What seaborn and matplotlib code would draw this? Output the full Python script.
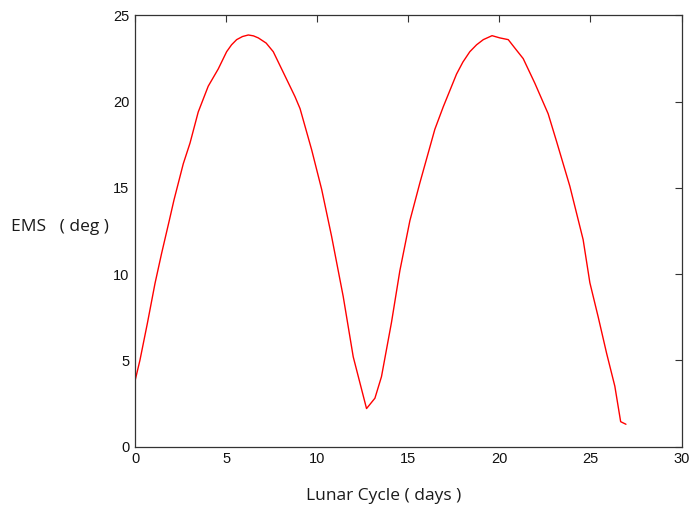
import matplotlib
matplotlib.use("Agg")
import matplotlib.pyplot as plt
import seaborn as sns
import pandas as pd

# Earth-Moon-Sun angle over one lunar cycle
days = [0.0, 0.27, 0.68, 1.10, 1.46, 1.88, 2.14, 2.65, 3.02, 3.47, 4.02, 4.57,
        5.03, 5.30, 5.58, 5.90, 6.22, 6.50, 6.77, 7.20, 7.59, 8.14, 8.78, 9.06,
        9.70, 10.25, 10.79, 11.43, 11.98, 12.71, 13.17, 13.53, 14.08, 14.54,
        15.09, 15.64, 16.46, 16.92, 17.65, 18.00, 18.38, 18.75, 19.12, 19.60,
        20.03, 20.49, 20.86, 21.31, 21.95, 22.68, 23.14, 23.87, 24.60, 24.97,
        25.43, 25.89, 26.34, 26.66, 26.95]
ems_deg = [3.8, 5.0, 7.15, 9.47, 11.2, 13.1, 14.3, 16.4, 17.6, 19.4, 20.9, 21.9,
           22.9, 23.3, 23.6, 23.78, 23.87, 23.82, 23.7, 23.4, 22.9, 21.7, 20.3,
           19.6, 17.2, 14.9, 12.2, 8.7, 5.2, 2.2, 2.8, 4.05, 7.2, 10.2,
           13.1, 15.3, 18.4, 19.7, 21.6, 22.3, 22.9, 23.3, 23.6, 23.83,
           23.7, 23.6, 23.1, 22.5, 21.07, 19.3, 17.7, 15.1, 12.0, 9.5,
           7.5, 5.4, 3.5, 1.44, 1.29]
x_ticks = [0, 5, 10, 15, 20, 25, 30]
y_ticks = [0, 5, 10, 15, 20, 25]

df = pd.DataFrame({"days": days, "ems": ems_deg})

sns.set_style("white")
plt.rcParams["font.family"] = ["Liberation Sans", "DejaVu Sans"]

fig = plt.figure(figsize=(6.91, 5.11), dpi=100)
ax = fig.add_axes([135 / 691, 1 - 446.5 / 511, 546.5 / 691, 431 / 511])

sns.lineplot(data=df, x="days", y="ems", ax=ax, color="#ff0000",
             linewidth=1.0, sort=False, estimator=None)

ax.set_xlim(0, 30)
ax.set_ylim(0, 25)
ax.set_xticks(x_ticks)
ax.set_yticks(y_ticks)
ax.tick_params(direction="in", length=5, width=0.8, color="#333333",
               top=True, right=True, labelsize=10.5, labelcolor="#111111", pad=4)
for s in ax.spines.values():
    s.set_visible(True)
    s.set_color("#333333")
    s.set_linewidth(0.9)

ax.set_xlabel("Lunar Cycle ( days )", family=["Open Sans", "DejaVu Sans"],
              fontsize=12.5, color="#1a1a1a", va="center")
ax.xaxis.set_label_coords(0.455, -0.115)
ax.set_ylabel("EMS   ( deg )", family=["Open Sans", "DejaVu Sans"],
              fontsize=12.5, color="#1a1a1a", rotation=0, ha="center", va="center")
ax.yaxis.set_label_coords(-0.137, 0.51)

fig.savefig("out.png", dpi=100)
